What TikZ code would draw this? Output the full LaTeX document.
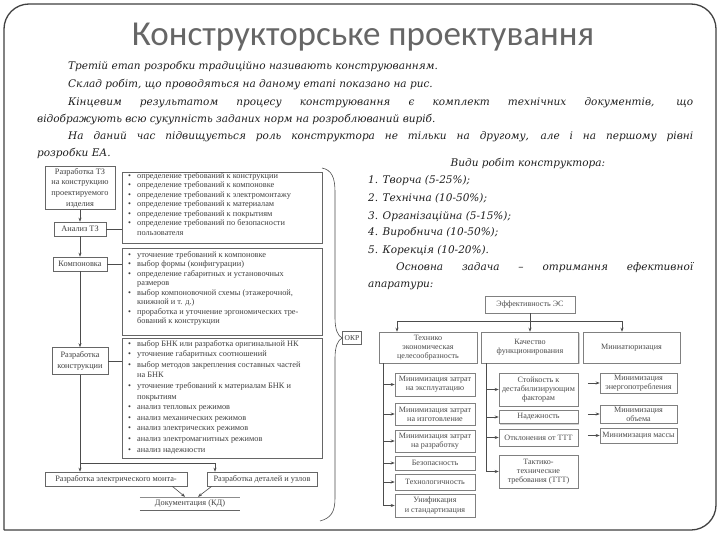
\documentclass[tikz,border=0pt]{standalone}
\usepackage{fontspec}
\setmainfont{Liberation Serif}
\newfontfamily\titlefont{Carlito}
\newfontfamily\parafamily{DejaVu Serif}
\usetikzlibrary{arrows.meta,shadows}
\newcommand{\pfont}{\parafamily\itshape\fontsize{10.5}{13}\selectfont}
\newcommand{\dfont}{\fontsize{8.3}{9.5}\selectfont}
\newcommand{\lfont}{\fontsize{8.3}{10.6}\selectfont}
\newcommand{\rfont}{\fontsize{8.1}{9.2}\selectfont}
\newcommand{\bl}{\makebox[9pt][l]{\textbullet}}
\newcommand{\cl}{\hspace*{9pt}}
\begin{document}
\begin{tikzpicture}[x=1pt,y=-1pt,
  frame/.style={draw=black!75, line width=1.3pt},
  para/.style={anchor=base west, inner sep=0pt, font=\pfont, text=black!88},
  lbox/.style={draw=black!60, fill=white, line width=0.6pt, font=\lfont, text=black!75, align=center, inner sep=1pt},
  listbox/.style={draw=black!60, line width=0.6pt, inner sep=0pt, anchor=north west},
  listtext/.style={anchor=north west, inner sep=0pt, font=\dfont, text=black!75, align=left},
  conn/.style={draw=black!70, line width=0.6pt},
  arr/.style={conn, -{Stealth[length=4pt,width=3pt]}},
  rbox/.style={draw=black!50, fill=white, line width=0.5pt, font=\rfont, text=black!70, align=center, inner sep=1pt,
    drop shadow={shadow xshift=1pt, shadow yshift=-1pt, fill=black!18, opacity=1}},
]
\useasboundingbox (0,0) rectangle (720,540);
\fill[white] (0,0) rectangle (720,540);
% frame
\draw[frame, rounded corners=25pt] (4,530) -- (4,4) -- (716,4) -- (716,530) -- (4,530);
% title
\node[font=\titlefont\fontsize{35}{35}\selectfont, text=black!60] (title) at (363,37) {Конструкторське проектування};
% paragraph
\node[para] (p1) at (68,70) {Третій етап розробки традиційно називають конструюванням.};
\node[para] (p2) at (68,88) {Склад робіт, що проводяться на даному етапі показано на рис.};
\node[para] (p3) at (68,106) {\makebox[625pt][s]{Кінцевим результатом процесу конструювання є комплект технічних документів, що}};
\node[para] (p4) at (37,123) {відображують всю сукупність заданих норм на розроблюваний виріб.};
\node[para] (p5) at (68,140) {\makebox[625pt][s]{На даний час підвищується роль конструктора не тільки на другому, але і на першому рівні}};
\node[para] (p6) at (37,157) {розробки ЕА.};
% right text
\node[para, anchor=base] (v0) at (528,167) {Види робіт конструктора:};
\node[para] (v1) at (368,184) {1. Творча (5-25\%);};
\node[para] (v2) at (368,202) {2. Технічна (10-50\%);};
\node[para] (v3) at (368,219) {3. Організаційна (5-15\%);};
\node[para] (v4) at (368,236) {4. Виробнича (10-50\%);};
\node[para] (v5) at (368,253) {5. Корекція (10-20\%).};
\node[para] (v6) at (396,270) {\makebox[297pt][s]{Основна задача – отримання ефективної}};
\node[para] (v7) at (368,287) {апаратури:};

% ---------- left diagram ----------
\node[lbox, minimum width=70, minimum height=43] (tz) at (80,188) {Разработка ТЗ\\на конструкцию\\проектируемого\\изделия};
\node[lbox, minimum width=52, minimum height=14] (an) at (80,229) {Анализ ТЗ};
\node[lbox, minimum width=54, minimum height=14] (komp) at (80,264) {Компоновка};
\node[lbox, minimum width=56, minimum height=27] (razr) at (80,361) {Разработка\\конструкции};

\node[listbox, minimum width=200, minimum height=71] (list1) at (122,172) {};
\node[listbox, minimum width=200, minimum height=87] (list2) at (122,248) {};
\node[listbox, minimum width=200, minimum height=120] (list3) at (122,338) {};

\node[listtext] (l1t) at (128,172) {\bl определение требований к конструкции\\
\bl определение требований к компоновке\\
\bl определение требований к электромонтажу\\
\bl определение требований к материалам\\
\bl определение требований к покрытиям\\
\bl определение требований по безопасности\\
\cl пользователя};
\node[listtext] (l2t) at (128,251) {\bl уточнение требований к компоновке\\
\bl выбор формы (конфигурации)\\
\bl определение габаритных и установочных\\
\cl размеров\\
\bl выбор компоновочной схемы (этажерочной,\\
\cl книжной и т. д.)\\
\bl проработка и уточнение эргономических тре-\\
\cl бований к конструкции};
\node[listtext, font=\fontsize{8.3}{10.6}\selectfont] (l3t) at (128,340) {\bl выбор БНК или разработка оригинальной НК\\
\bl уточнение габаритных соотношений\\
\bl выбор методов закрепления составных частей\\
\cl на БНК\\
\bl уточнение требований к материалам БНК и\\
\cl покрытиям\\
\bl анализ тепловых режимов\\
\bl анализ механических режимов\\
\bl анализ электрических режимов\\
\bl анализ электромагнитных режимов\\
\bl анализ надежности};

\draw[arr] (tz.south) -- (an.north);
\draw[arr] (an.south) -- (komp.north);
\draw[arr] (komp.south) -- (razr.north);
\draw[conn] (an.east) -- (an.east -| list1.west);
\draw[conn] (komp.east) -- (komp.east -| list2.west);
\draw[conn] (razr.east) -- (razr.east -| list3.west);

\node[lbox, minimum width=142, minimum height=14] (el) at (116,479) {Разработка электрического монта-};
\node[lbox, minimum width=110, minimum height=14] (det) at (262,479) {Разработка деталей и узлов};
\node[font=\lfont, text=black!75, minimum width=100, minimum height=13, inner sep=0pt] (doc) at (190,503.5) {Документация (КД)};
\draw[draw=black!45, line width=0.6pt] (doc.north west) -- (doc.north east);
\draw[draw=black!60, line width=1.3pt] (doc.south west) -- (doc.south east);

\coordinate (j) at (80,463);
\coordinate (k) at (215,463);
\draw[conn] (razr.south) -- (j) -- (k);
\draw[arr] (k) -- (k |- det.north);
\draw[arr] (j) -- (j |- el.north);
\draw[arr] ([xshift=-15pt]el.south east) -- ([xshift=-5pt]doc.north);
\draw[arr] ([xshift=5pt]det.south west) -- ([xshift=8pt]doc.north);

% brace + OKR
\node[lbox, minimum width=19, minimum height=13, font=\fontsize{7.5}{9}\selectfont] (okr) at (352,338) {ОКР};
\draw[conn] (322,168) .. controls (332,170) and (335,178) .. (335,192) -- (335,318)
  .. controls (335,330) and (338,336) .. (okr.west);
\draw[conn] (okr.west) .. controls (338,340) and (335,346) .. (335,358) -- (335,498)
  .. controls (335,512) and (331,518) .. (320,521);

% ---------- right diagram ----------
\node[rbox, minimum width=90, minimum height=17] (eff) at (530,304.5) {Эффективность ЭС};
\node[rbox, minimum width=98, minimum height=31] (tec) at (428,347.5) {Технико\\экономическая\\целесообразность};
\node[rbox, minimum width=97, minimum height=31] (kach) at (530,347.5) {Качество\\функционирования};
\node[rbox, minimum width=97, minimum height=31] (mini) at (631.5,347.5) {Миниатюризация};

\coordinate (bl) at (397,321);
\coordinate (br) at (622,321);
\draw[conn] (bl) -- (br);
\draw[arr] (eff.south) -- (kach.north);
\draw[arr] (bl) -- (bl |- tec.north);
\draw[arr] (br) -- (br |- mini.north);

\node[rbox, minimum width=80, minimum height=23] (a1) at (435,384.5) {Минимизация затрат\\на эксплуатацию};
\node[rbox, minimum width=80, minimum height=22] (a2) at (435,414) {Минимизация затрат\\на изготовление};
\node[rbox, minimum width=80, minimum height=22] (a3) at (435,441) {Минимизация затрат\\на разработку};
\node[rbox, minimum width=80, minimum height=14] (a4) at (435,463) {Безопасность};
\node[rbox, minimum width=80, minimum height=16] (a5) at (435,482) {Технологичность};
\node[rbox, minimum width=80, minimum height=23] (a6) at (435,505.5) {Унификация\\и стандартизация};
\coordinate (sa) at (383,363);
\draw[conn] (sa) -- (sa |- a6.west);
\foreach \n in {a1,a2,a3,a4,a5,a6} \draw[arr] (sa |- \n.west) -- (\n.west);

\node[rbox, minimum width=79, minimum height=33] (b1) at (538.5,389.5) {Стойкость к\\дестабилизирующим\\факторам};
\node[rbox, minimum width=79, minimum height=13] (b2) at (538.5,417) {Надежность};
\node[rbox, minimum width=79, minimum height=17] (b3) at (538.5,437.5) {Отклонения от ТТТ};
\node[rbox, minimum width=79, minimum height=33] (b4) at (538.5,471.5) {Тактико-\\технические\\требования (ТТТ)};
\coordinate (sb) at (486,363);
\draw[conn] (sb) -- (sb |- b4.west);
\foreach \n in {b1,b2,b3,b4} \draw[arr] (sb |- \n.west) -- (\n.west);

\node[rbox, minimum width=77, minimum height=20] (c1) at (638.5,383) {Минимизация\\энергопотребления};
\node[rbox, minimum width=77, minimum height=18] (c2) at (638.5,414) {Минимизация\\объема};
\node[rbox, minimum width=77, minimum height=15] (c3) at (638.5,435.5) {Минимизация массы};
\foreach \n in {c1,c2,c3} \draw[arr] ([xshift=-12pt]\n.west) -- (\n.west);
\end{tikzpicture}
\end{document}
